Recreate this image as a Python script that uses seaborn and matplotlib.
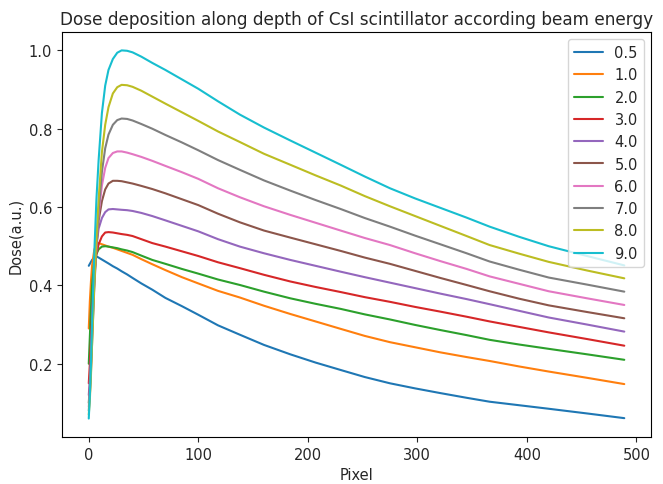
import matplotlib
matplotlib.use("Agg")
import matplotlib.pyplot as plt
import seaborn as sns
import pandas as pd

sns.set_style("ticks")
plt.rcParams['font.family'] = ['DejaVu Sans']
plt.rcParams['font.size'] = 10.5

energies = ["0.5", "1.0", "2.0", "3.0", "4.0", "5.0", "6.0", "7.0", "8.0", "9.0"]
pixel = [0, 1, 2, 3, 5, 7, 9, 12, 15, 18, 22, 26, 30, 35, 40, 48, 58, 70, 85, 100,
         118, 138, 160, 184, 207, 230, 252, 275, 298, 321, 345, 366, 393, 420, 455, 489]

dose_05 = [0.45, 0.455, 0.46, 0.465, 0.471, 0.474, 0.471, 0.466, 0.461, 0.456, 0.449, 0.443,
           0.436, 0.428, 0.419, 0.405, 0.389, 0.368, 0.347, 0.325, 0.298, 0.274, 0.248, 0.224,
           0.203, 0.184, 0.166, 0.150, 0.137, 0.125, 0.113, 0.103, 0.094, 0.085, 0.073, 0.061]
dose_10 = [0.29, 0.36, 0.41, 0.45, 0.49, 0.508, 0.508, 0.505, 0.502, 0.499, 0.496, 0.492,
           0.488, 0.483, 0.478, 0.467, 0.454, 0.439, 0.421, 0.405, 0.386, 0.369, 0.348, 0.327,
           0.308, 0.289, 0.271, 0.255, 0.242, 0.229, 0.217, 0.207, 0.193, 0.180, 0.164, 0.148]
dose_20 = [0.20, 0.27, 0.34, 0.40, 0.46, 0.48, 0.492, 0.499, 0.500, 0.499, 0.497, 0.495,
           0.492, 0.489, 0.485, 0.476, 0.465, 0.455, 0.442, 0.430, 0.415, 0.401, 0.384, 0.367,
           0.353, 0.340, 0.326, 0.313, 0.299, 0.286, 0.273, 0.261, 0.249, 0.238, 0.224, 0.210]
dose_30 = [0.15, 0.20, 0.26, 0.33, 0.43, 0.48, 0.505, 0.525, 0.535, 0.536, 0.535, 0.533,
           0.531, 0.529, 0.526, 0.518, 0.508, 0.499, 0.487, 0.475, 0.459, 0.444, 0.427, 0.410,
           0.396, 0.383, 0.370, 0.358, 0.345, 0.333, 0.320, 0.308, 0.294, 0.280, 0.263, 0.246]
dose_40 = [0.12, 0.16, 0.22, 0.30, 0.42, 0.50, 0.545, 0.572, 0.587, 0.594, 0.595, 0.594,
           0.593, 0.592, 0.590, 0.585, 0.577, 0.566, 0.552, 0.538, 0.518, 0.499, 0.482, 0.465,
           0.450, 0.435, 0.421, 0.407, 0.393, 0.379, 0.365, 0.352, 0.335, 0.318, 0.300, 0.282]
dose_50 = [0.10, 0.14, 0.20, 0.28, 0.41, 0.50, 0.565, 0.615, 0.645, 0.660, 0.667, 0.667,
           0.666, 0.663, 0.660, 0.654, 0.646, 0.635, 0.620, 0.605, 0.583, 0.561, 0.540, 0.522,
           0.505, 0.488, 0.471, 0.455, 0.437, 0.419, 0.401, 0.385, 0.366, 0.349, 0.332, 0.316]
dose_60 = [0.09, 0.13, 0.19, 0.27, 0.40, 0.50, 0.58, 0.655, 0.70, 0.725, 0.738, 0.742,
           0.742, 0.739, 0.735, 0.728, 0.718, 0.705, 0.689, 0.672, 0.648, 0.625, 0.602, 0.580,
           0.560, 0.540, 0.521, 0.503, 0.482, 0.462, 0.442, 0.423, 0.404, 0.385, 0.367, 0.350]
dose_70 = [0.08, 0.12, 0.18, 0.25, 0.39, 0.50, 0.59, 0.69, 0.75, 0.785, 0.810, 0.822,
           0.826, 0.825, 0.821, 0.812, 0.800, 0.784, 0.765, 0.745, 0.720, 0.695, 0.668, 0.642,
           0.618, 0.595, 0.572, 0.550, 0.527, 0.505, 0.482, 0.461, 0.440, 0.420, 0.402, 0.384]
dose_80 = [0.07, 0.11, 0.17, 0.25, 0.40, 0.52, 0.62, 0.74, 0.81, 0.855, 0.89, 0.906,
           0.912, 0.911, 0.907, 0.897, 0.882, 0.864, 0.842, 0.820, 0.793, 0.766, 0.736, 0.708,
           0.681, 0.655, 0.628, 0.602, 0.577, 0.552, 0.526, 0.503, 0.481, 0.460, 0.438, 0.418]
dose_90 = [0.06, 0.12, 0.20, 0.30, 0.48, 0.62, 0.72, 0.84, 0.91, 0.950, 0.978, 0.994,
           1.000, 0.999, 0.995, 0.984, 0.968, 0.950, 0.926, 0.902, 0.870, 0.836, 0.803, 0.770,
           0.739, 0.708, 0.678, 0.648, 0.622, 0.598, 0.573, 0.550, 0.524, 0.500, 0.475, 0.451]

series = [dose_05, dose_10, dose_20, dose_30, dose_40, dose_50, dose_60, dose_70, dose_80, dose_90]

rows = []
for e, vals in zip(energies, series):
    for p, v in zip(pixel, vals):
        rows.append({"Pixel": p, "Dose": v, "Energy": e})
df = pd.DataFrame(rows)

fig, ax = plt.subplots(figsize=(6.63, 4.85), dpi=100)
fig.subplots_adjust(left=0.0935, right=0.982, top=0.932, bottom=0.097)

sns.lineplot(data=df, x="Pixel", y="Dose", hue="Energy", hue_order=energies,
             palette="tab10", linewidth=1.5, ax=ax, estimator=None, sort=True)

ax.set_title("Dose deposition along depth of CsI scintillator according beam energy", fontsize=12.2)
ax.set_xlabel("Pixel")
ax.set_ylabel("Dose(a.u.)")
ax.set_xticks([0, 100, 200, 300, 400, 500])
ax.set_yticks([0.2, 0.4, 0.6, 0.8, 1.0])
ax.margins(x=0.05, y=0.05)
leg = ax.legend(loc="upper right", title=None)
for spine in ax.spines.values():
    spine.set_visible(True)
    spine.set_color("black")
    spine.set_linewidth(0.8)

fig.savefig("out.png", dpi=100)
